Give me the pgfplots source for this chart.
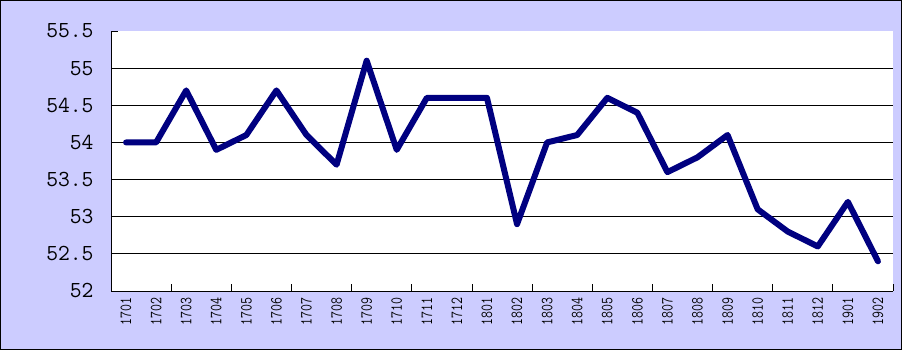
\documentclass[border=0pt]{standalone}
\usepackage{pgfplots}
\pgfplotsset{compat=1.18}
\definecolor{bg}{RGB}{204,204,255}
\definecolor{navy}{RGB}{0,0,128}
\newcommand\s[1]{\scalebox{0.8}[1]{#1}}
\begin{document}
\begin{tikzpicture}
\fill[bg] (0,0) rectangle (902bp,350bp);
\draw[black,line width=1bp] (0.5bp,0.5bp) rectangle (901.5bp,349.5bp);
\begin{axis}[
  at={(111bp,59bp)}, anchor=south west,
  scale only axis, width=782bp, height=260bp,
  xmin=0, xmax=26, ymin=52, ymax=55.5,
  axis x line*=bottom, axis y line*=left,
  axis line style={black, line width=0.8bp, -},
  axis background/.style={fill=white},
  xtick={0.5,1.5,...,25.5},
  xticklabels={\s{1701},\s{1702},\s{1703},\s{1704},\s{1705},\s{1706},\s{1707},\s{1708},\s{1709},\s{1710},\s{1711},\s{1712},\s{1801},\s{1802},\s{1803},\s{1804},\s{1805},\s{1806},\s{1807},\s{1808},\s{1809},\s{1810},\s{1811},\s{1812},\s{1901},\s{1902}},
  xticklabel style={rotate=90, anchor=east, font=\ttfamily\fontsize{17}{17}\selectfont, yshift=0bp, xshift=-3bp},
  major x tick style={draw=none},
  minor xtick={2,4,...,26},
  minor x tick style={black, line width=0.8bp},
  minor tick length=7bp,
  tick align=inside,
  ytick={52,52.5,...,55.5},
  yticklabels={52,52.5,53,53.5,54,54.5,55,55.5},
  yticklabel style={font=\ttfamily\fontsize{23}{23}\selectfont, anchor=east, xshift=-14bp},
  major y tick style={black, line width=0.8bp},
  major tick length=7bp,
  extra y ticks={52.5,53,...,55},
  extra y tick labels={},
  extra y tick style={grid=major, major grid style={black, line width=0.8bp}, major tick length=0bp},
  clip=false,
]
\addplot[navy, line width=6bp, line join=round, line cap=round] coordinates {
(0.5,54.0) (1.5,54.0) (2.5,54.7) (3.5,53.9) (4.5,54.1) (5.5,54.7) (6.5,54.1) (7.5,53.7) (8.5,55.1) (9.5,53.9) (10.5,54.6) (11.5,54.6) (12.5,54.6) (13.5,52.9) (14.5,54.0) (15.5,54.1) (16.5,54.6) (17.5,54.4) (18.5,53.6) (19.5,53.8) (20.5,54.1) (21.5,53.1) (22.5,52.8) (23.5,52.6) (24.5,53.2) (25.5,52.4)
};
\end{axis}
\pgfresetboundingbox
\useasboundingbox (0,0) rectangle (902bp,350bp);
\end{tikzpicture}
\end{document}
